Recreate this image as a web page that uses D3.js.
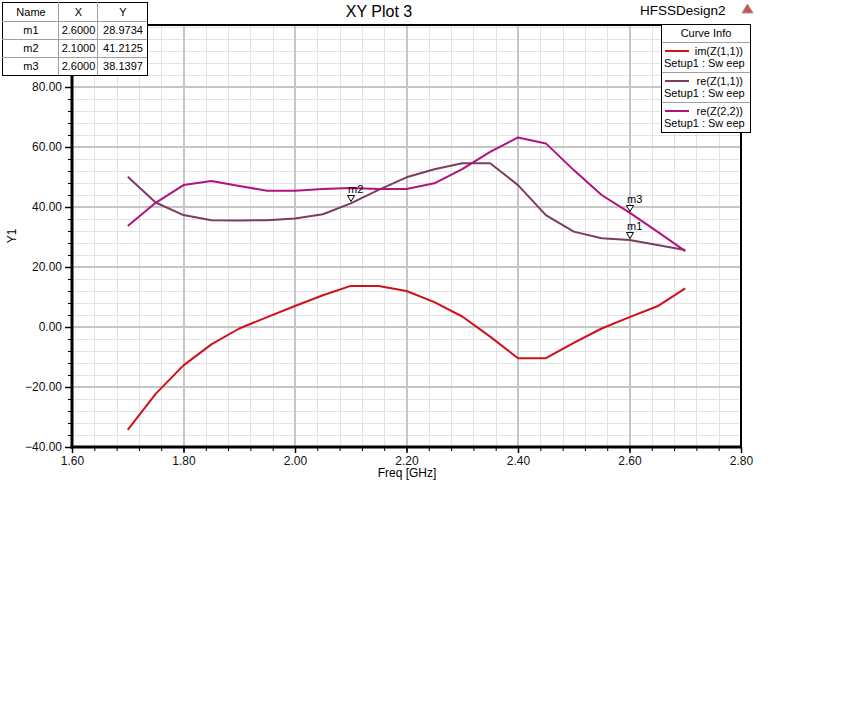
<!DOCTYPE html>
<html>
<head>
<meta charset="utf-8">
<script src="https://cdn.jsdelivr.net/npm/d3@7"></script>
<style>
  body { margin: 0; background: #fff; }
  svg { font-family: "Liberation Sans", Arial, sans-serif; }
</style>
</head>
<body>
<script>
// sweep frequencies (GHz)
var freqs = [1.70, 1.75, 1.80, 1.85, 1.90, 1.95, 2.00, 2.05, 2.10, 2.15, 2.20,
             2.25, 2.30, 2.35, 2.40, 2.45, 2.50, 2.55, 2.60, 2.65, 2.70];

// curve values
var imZ11 = [-34.3, -22.3, -12.8, -5.8, -0.5, 3.3, 7.0, 10.6, 13.7, 13.7, 12.0,
             8.3, 3.5, -3.2, -10.4, -10.4, -5.3, -0.5, 3.3, 6.9, 12.9];
var reZ11 = [50.1, 41.5, 37.3, 35.6, 35.5, 35.6, 36.2, 37.6, 41.2, 45.7, 49.9,
             52.6, 54.6, 54.6, 47.3, 37.3, 31.8, 29.6, 28.97, 27.3, 25.7];
var reZ22 = [33.7, 41.4, 47.3, 48.7, 47.0, 45.4, 45.4, 46.0, 46.3, 46.0, 46.0,
             47.9, 52.6, 58.4, 63.2, 61.2, 52.3, 44.0, 38.14, 31.8, 25.3];

var curveNames = ["im(Z(1,1))", "re(Z(1,1))", "re(Z(2,2))"];
var curveColors = ["#d0101a", "#7b3c62", "#b0137e"];

// markers
var markerNames = ["m1", "m2", "m3"];
var markerX = [2.6, 2.1, 2.6];
var markerY = [28.9734, 41.2125, 38.1397];

var yTicks = [-40, -20, 0, 20, 40, 60, 80];
var xTicks = [1.6, 1.8, 2.0, 2.2, 2.4, 2.6, 2.8];

var width = 861, height = 715;
var pLeft = 72, pRight = 741, pTop = 25, pBottom = 447;

var x = d3.scaleLinear().domain([1.6, 2.8]).range([pLeft, pRight]);
var y = d3.scaleLinear().domain([-40, -40 + (pBottom - pTop) / 3]).range([pBottom, pTop]);

var svg = d3.select("body").append("svg")
  .attr("width", width)
  .attr("height", height);

// grid: minor first, then major
var xMinor = d3.range(0, 31).map(function(i) { return 1.6 + i * 0.04; });
var yMinor = d3.range(0, 36).map(function(i) { return -40 + i * 4; });

svg.append("g").selectAll("line")
  .data(xMinor).enter().append("line")
  .attr("x1", function(d) { return Math.round(x(d)) + 0.5; })
  .attr("x2", function(d) { return Math.round(x(d)) + 0.5; })
  .attr("y1", pTop).attr("y2", pBottom)
  .attr("stroke", "#e3e3e3");

svg.append("g").selectAll("line")
  .data(yMinor).enter().append("line")
  .attr("y1", function(d) { return Math.round(y(d)) + 0.5; })
  .attr("y2", function(d) { return Math.round(y(d)) + 0.5; })
  .attr("x1", pLeft).attr("x2", pRight)
  .attr("stroke", "#e3e3e3");

svg.append("g").selectAll("line")
  .data(xTicks).enter().append("line")
  .attr("x1", function(d) { return Math.round(x(d)); })
  .attr("x2", function(d) { return Math.round(x(d)); })
  .attr("y1", pTop).attr("y2", pBottom)
  .attr("stroke", "#c6c6c6").attr("stroke-width", 2);

svg.append("g").selectAll("line")
  .data(yTicks).enter().append("line")
  .attr("y1", function(d) { return Math.round(y(d)); })
  .attr("y2", function(d) { return Math.round(y(d)); })
  .attr("x1", pLeft).attr("x2", pRight)
  .attr("stroke", "#c6c6c6").attr("stroke-width", 2);

// frame
svg.append("rect")
  .attr("x", pLeft).attr("y", pTop)
  .attr("width", pRight - pLeft).attr("height", pBottom - pTop)
  .attr("fill", "none").attr("stroke", "#000").attr("stroke-width", 2);
// heavier left and bottom axis lines
svg.append("line").attr("x1", pLeft).attr("x2", pLeft)
  .attr("y1", pTop).attr("y2", pBottom + 1.5)
  .attr("stroke", "#000").attr("stroke-width", 3);
svg.append("line").attr("x1", pLeft - 1.5).attr("x2", pRight + 1)
  .attr("y1", pBottom).attr("y2", pBottom)
  .attr("stroke", "#000").attr("stroke-width", 3);

// axes (ticks + labels)
var yAxis = d3.axisLeft(y).tickValues(yTicks).tickSize(7).tickPadding(3)
  .tickFormat(d3.format(".2f"));
var gy = svg.append("g").attr("transform", "translate(" + pLeft + ",0)").call(yAxis);
gy.selectAll(".tick line").attr("stroke-width", 1.5);

var gyMinor = svg.append("g").attr("transform", "translate(" + pLeft + ",0)")
  .call(d3.axisLeft(y).tickValues(yMinor).tickSize(4).tickFormat(""));

var xAxis = d3.axisBottom(x).tickValues(xTicks).tickSize(6).tickPadding(3)
  .tickFormat(d3.format(".2f"));
var gx = svg.append("g").attr("transform", "translate(0," + pBottom + ")").call(xAxis);
gx.selectAll(".tick line").attr("stroke-width", 1.5);

var gxMinor = svg.append("g").attr("transform", "translate(0," + pBottom + ")")
  .call(d3.axisBottom(x).tickValues(xMinor).tickSize(4).tickFormat(""));

[gy, gyMinor, gx, gxMinor].forEach(function(g) {
  g.select(".domain").remove();
  g.selectAll("text").attr("font-family", "Liberation Sans, Arial, sans-serif")
    .attr("font-size", 12).attr("fill", "#111");
});

svg.append("text")
  .attr("x", 407).attr("y", 477)
  .attr("text-anchor", "middle").attr("font-size", 12)
  .text("Freq [GHz]");

svg.append("text")
  .attr("transform", "translate(16,236) rotate(-90)")
  .attr("text-anchor", "middle").attr("font-size", 12)
  .text("Y1");

// curves
var series = [imZ11, reZ11, reZ22];
var line = d3.line()
  .x(function(d) { return x(d[0]); })
  .y(function(d) { return y(d[1]); });

series.forEach(function(vals, i) {
  svg.append("path")
    .datum(freqs.map(function(f, j) { return [f, vals[j]]; }))
    .attr("d", line)
    .attr("fill", "none")
    .attr("stroke", curveColors[i])
    .attr("stroke-width", 2)
    .attr("stroke-linejoin", "round");
});

// marker triangles and labels
markerNames.forEach(function(m, i) {
  var px = Math.round(x(markerX[i])), py = Math.round(y(markerY[i]));
  svg.append("path")
    .attr("d", "M" + (px - 3.5) + "," + (py - 7.5) + "h7l-3.5,6z")
    .attr("fill", "#fff").attr("stroke", "#000").attr("stroke-width", 1);
  svg.append("text")
    .attr("x", px - 3).attr("y", py - 10)
    .attr("font-size", 11)
    .text(m);
});

// title + design name
svg.append("text")
  .attr("x", 379).attr("y", 17)
  .attr("text-anchor", "middle").attr("font-size", 16)
  .text("XY Plot 3");

svg.append("text")
  .attr("x", 640).attr("y", 15)
  .attr("font-size", 13.5)
  .text("HFSSDesign2");

svg.append("path")
  .attr("d", "M747.5,4L753,13H742Z")
  .attr("fill", "#d05050").attr("stroke", "#999").attr("stroke-width", 1);

// marker table
var tbl = svg.append("g");
var colX = [2, 58, 97, 147];
var rowY = [2, 21, 39, 57, 75];
var cells = [["Name", "X", "Y"]].concat(markerNames.map(function(m, i) {
  return [m, d3.format(".4f")(markerX[i]), d3.format(".4f")(markerY[i])];
}));
tbl.append("rect")
  .attr("x", colX[0] + 0.5).attr("y", rowY[0] + 0.5)
  .attr("width", colX[3] - colX[0]).attr("height", rowY[4] - rowY[0])
  .attr("fill", "#fff").attr("stroke", "#000");
rowY.slice(1, 4).forEach(function(r) {
  tbl.append("line").attr("x1", colX[0]).attr("x2", colX[3])
    .attr("y1", r + 0.5).attr("y2", r + 0.5).attr("stroke", "#a0a0a0");
});
colX.slice(1, 3).forEach(function(c) {
  tbl.append("line").attr("x1", c + 0.5).attr("x2", c + 0.5)
    .attr("y1", rowY[0]).attr("y2", rowY[4]).attr("stroke", "#a0a0a0");
});
cells.forEach(function(row, r) {
  row.forEach(function(t, c) {
    tbl.append("text")
      .attr("x", (colX[c] + colX[c + 1]) / 2 + 1)
      .attr("y", (rowY[r] + rowY[r + 1]) / 2 + 4)
      .attr("text-anchor", "middle").attr("font-size", 11)
      .text(t);
  });
});

// legend
var lg = svg.append("g");
lg.append("rect")
  .attr("x", 661.5).attr("y", 24.5).attr("width", 89).attr("height", 108)
  .attr("fill", "#fff").attr("stroke", "#000");
lg.append("text").attr("x", 706).attr("y", 37)
  .attr("text-anchor", "middle").attr("font-size", 11).text("Curve Info");
curveNames.forEach(function(n, i) {
  var oy = 42 + i * 30;
  lg.append("line").attr("x1", 662).attr("x2", 750)
    .attr("y1", oy + 0.5).attr("y2", oy + 0.5).attr("stroke", "#a0a0a0");
  lg.append("line").attr("x1", 665).attr("x2", 689)
    .attr("y1", oy + 9).attr("y2", oy + 9)
    .attr("stroke", curveColors[i]).attr("stroke-width", 2);
  lg.append("text").attr("x", 743).attr("y", oy + 13)
    .attr("text-anchor", "end").attr("font-size", 11).text(n);
  lg.append("text").attr("x", 664).attr("y", oy + 25)
    .attr("font-size", 11).text("Setup1 : Sw eep");
});
</script>
</body>
</html>
